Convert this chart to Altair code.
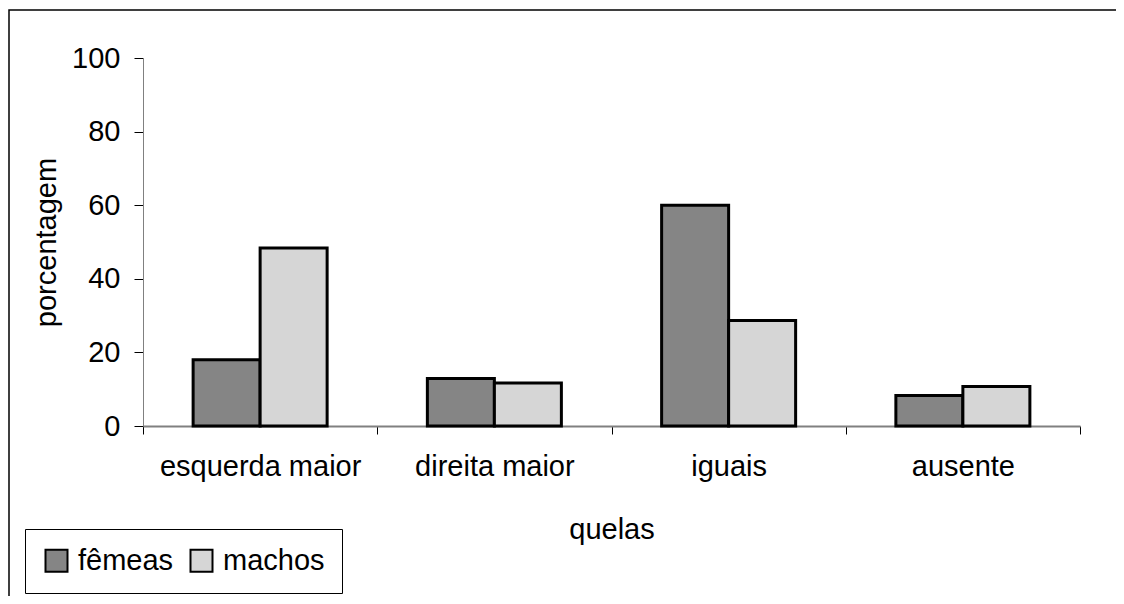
import altair as alt
import pandas as pd

categories = ["esquerda maior", "direita maior", "iguais", "ausente"]
series = ["fêmeas", "machos"]
femeas = [18.0, 12.9, 60.0, 8.3]
machos = [48.4, 11.7, 28.7, 10.7]

rows = []
for c, f, m in zip(categories, femeas, machos):
    rows.append({"quelas": c, "sexo": "fêmeas", "porcentagem": f})
    rows.append({"quelas": c, "sexo": "machos", "porcentagem": m})
df = pd.DataFrame(rows)

FONT = "Liberation Sans"
FS = 29

bars = alt.Chart(df).mark_bar(stroke="black", strokeWidth=3, opacity=1).encode(
    x=alt.X("quelas:N", sort=categories,
            scale=alt.Scale(paddingInner=0, paddingOuter=0),
            axis=alt.Axis(title="quelas", labelAngle=0, tickBand="extent",
                          tickSize=8, tickColor="black", tickWidth=1,
                          domainColor="#808080", domainWidth=2,
                          labelFontSize=FS, labelFont=FONT, labelColor="black",
                          labelLimit=0,
                          labelPadding=18, titleFontSize=FS, titleFont=FONT,
                          titleFontWeight="normal", titleColor="black",
                          titlePadding=34)),
    xOffset=alt.XOffset("sexo:N", sort=series,
                        scale=alt.Scale(paddingInner=0, paddingOuter=0.748)),
    y=alt.Y("porcentagem:Q",
            scale=alt.Scale(domain=[0, 100], nice=False),
            axis=alt.Axis(title="porcentagem", values=[0, 20, 40, 60, 80, 100],
                          grid=False, tickSize=9, tickColor="black", tickWidth=1,
                          domainColor="#808080", domainWidth=1,
                          labelFontSize=FS, labelFont=FONT, labelColor="black",
                          labelPadding=14, titleFontSize=FS, titleFont=FONT,
                          titleFontWeight="normal", titleColor="black",
                          titlePadding=10)),
    fill=alt.Fill("sexo:N", sort=series,
                  scale=alt.Scale(domain=series, range=["#858585", "#d6d6d6"]),
                  legend=alt.Legend(title=None, orient="none", direction="horizontal",
                                    legendX=-118, legendY=471,
                                    strokeColor="black", padding=17,
                                    symbolType="square", symbolSize=484,
                                    symbolStrokeColor="black", symbolStrokeWidth=2,
                                    symbolOpacity=1,
                                    labelFontSize=FS, labelFont=FONT, labelColor="black",
                                    labelOffset=7, columnPadding=12)),
)

frame = alt.Chart(pd.DataFrame({"a": [0]})).mark_rect(
    filled=False, stroke="black", strokeWidth=1.5
).encode(
    x=alt.value(-134), x2=alt.value(1000), y=alt.value(-48), y2=alt.value(620)
)

chart = alt.layer(bars, frame).properties(
    width=937, height=368,
    background="white",
    autosize=alt.AutoSizeParams(type="none"),
    padding={"left": 135, "top": 50, "right": 36, "bottom": 170},
).configure_view(strokeWidth=0, stroke="transparent")

chart.save("out.html", embed_options={"renderer": "svg", "actions": False})
